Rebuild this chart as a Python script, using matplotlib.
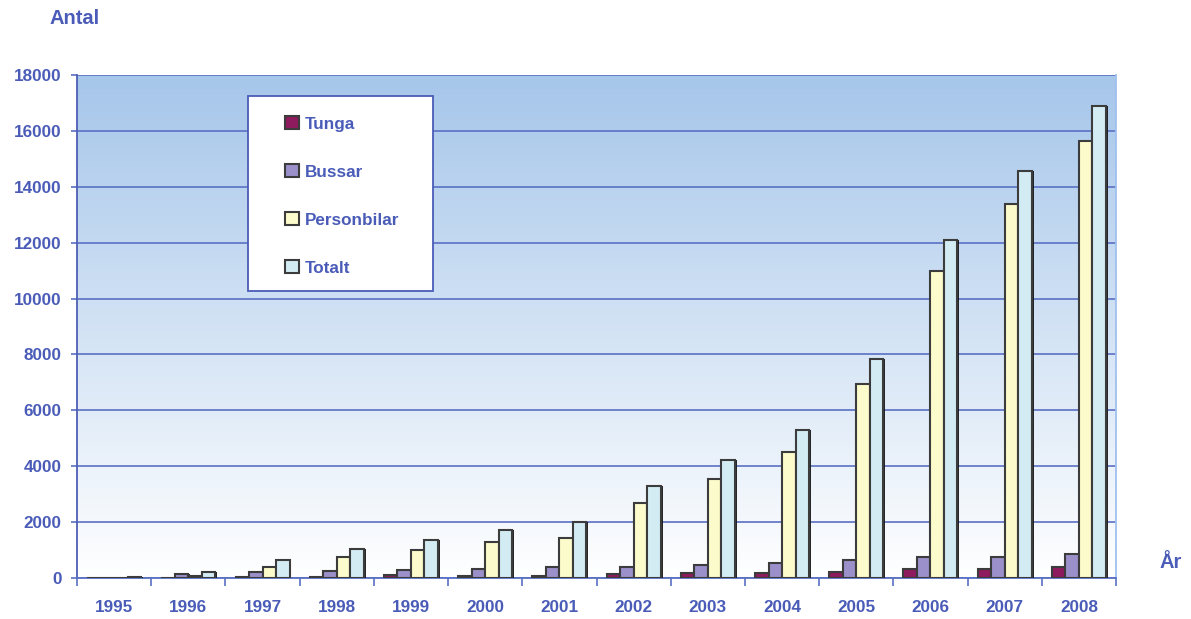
import numpy as np
import matplotlib
matplotlib.use("Agg")
import matplotlib.pyplot as plt
import matplotlib.patheffects as pe
from matplotlib.patches import Rectangle

years = ["1995", "1996", "1997", "1998", "1999", "2000", "2001",
         "2002", "2003", "2004", "2005", "2006", "2007", "2008"]
tunga = [0, 0, 20, 25, 95, 85, 85, 130, 190, 190, 230, 335, 335, 390]
bussar = [0, 145, 200, 260, 300, 335, 390, 390, 475, 535, 630, 740, 740, 845]
personbilar = [0, 60, 390, 750, 1000, 1285, 1440, 2700, 3535, 4500, 6950, 11000, 13390, 15645]
totalt = [45, 205, 655, 1050, 1355, 1700, 1990, 3300, 4240, 5290, 7845, 12110, 14550, 16900]

series = [("Tunga", tunga, "#8e1b5e"),
          ("Bussar", bussar, "#9b90c9"),
          ("Personbilar", personbilar, "#fbfbcb"),
          ("Totalt", totalt, "#d3ecf4")]

txt = "#4a5cb8"
grid_c = "#5a70c4"
plt.rcParams["font.family"] = ["Liberation Sans", "DejaVu Sans"]
plt.rcParams["font.weight"] = "bold"

fig = plt.figure(figsize=(11.91, 6.19), dpi=100)
ax = fig.add_axes([77 / 1191, 1 - 578 / 619, 1039 / 1191, 503 / 619])

# gradient background
grad = np.linspace(0, 1, 256).reshape(-1, 1)
top = np.array([0.650, 0.776, 0.918])
img = top * grad[..., None] + np.ones(3) * (1 - grad[..., None])
ax.imshow(img, extent=[0, 1, 0, 1], transform=ax.transAxes, aspect="auto",
          origin="lower", zorder=0)

x = np.arange(len(years))
w = 0.182
shadow = [pe.SimplePatchShadow(offset=(1.4, 0), shadow_rgbFace="#111111", alpha=0.9),
          pe.Normal()]
handles = []
for i, (name, vals, col) in enumerate(series):
    b = ax.bar(x + (i - 1.5) * w, vals, w, color=col, edgecolor="#3c3c3c",
               linewidth=1.5, label=name, zorder=3)
    for p in b:
        p.set_path_effects(shadow)
    handles.append(b)

ax.set_xlim(-0.5, len(years) - 0.5)
ax.set_ylim(0, 18000)
ax.set_yticks(np.arange(0, 18001, 2000))
ax.grid(axis="y", color=grid_c, linewidth=1.2, zorder=1)
ax.set_axisbelow(True)

ax.set_xticks(x)
ax.set_xticklabels(years)
ax.set_xticks(np.arange(-0.5, len(years), 1), minor=True)
ax.tick_params(axis="x", which="major", length=0, pad=16, labelsize=12.3, labelcolor=txt)
ax.tick_params(axis="x", which="minor", length=6, width=1.2, color=grid_c, direction="out")
ax.tick_params(axis="y", length=4.5, width=1.2, color=grid_c, pad=6.5, labelsize=12.3,
               labelcolor=txt)

ax.spines["top"].set_visible(False)
ax.spines["left"].set_color("#4d5fb5")
ax.spines["left"].set_linewidth(1.3)
ax.spines["bottom"].set_color(grid_c)
ax.spines["bottom"].set_linewidth(1.3)
ax.spines["right"].set_color("#9fc0ee")
ax.spines["right"].set_linewidth(1.3)

# legend box
ax.add_patch(Rectangle(((247.5 - 77) / 1039, (578 - 291) / 503), 185 / 1039, 195 / 503,
                       transform=ax.transAxes, facecolor="white", edgecolor=txt,
                       linewidth=1.3, zorder=5))
leg = ax.legend(handles=handles, loc="upper left",
                bbox_to_anchor=((284.5 - 77) / 1039, (578 - 116) / 503),
                frameon=False, borderpad=0, borderaxespad=0, handlelength=0.82,
                handleheight=0.82, handletextpad=0.35, labelspacing=1.9,
                prop={"size": 12.3, "weight": "bold"})
leg.set_zorder(6)
for t in leg.get_texts():
    t.set_color(txt)

fig.text(50 / 1191, 1 - 18 / 619, "Antal", fontsize=14.5, fontweight="bold",
         color=txt, va="center", ha="left")
fig.text(1160 / 1191, 1 - 562 / 619, "År", fontsize=14.5, fontweight="bold",
         color=txt, va="center", ha="left")

fig.savefig("out.png", dpi=100)
